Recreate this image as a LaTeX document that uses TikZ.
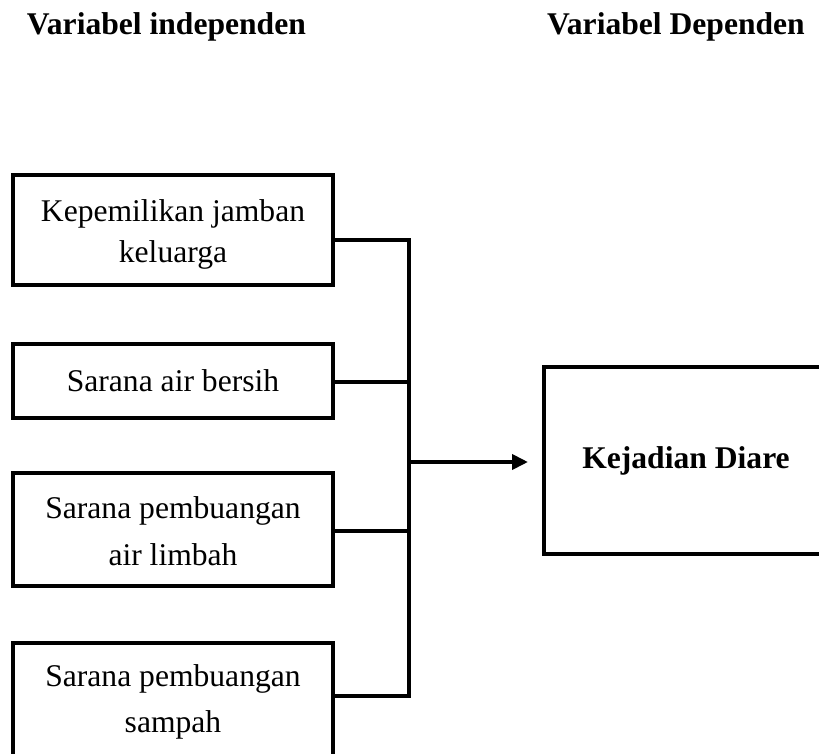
\documentclass[tikz,border=0pt]{standalone}
\usepackage{fontspec}
\setmainfont{Liberation Serif}
\usetikzlibrary{arrows.meta}
\begin{document}
\begin{tikzpicture}[x=1pt,y=-1pt,
  every node/.style={inner sep=0pt, outer sep=0pt},
  varbox/.style={draw, line width=3.8pt, align=center, minimum width=320pt,
    font=\fontsize{31.6}{46}\selectfont},
  boxtxt/.style={align=center, font=\fontsize{31.6}{41}\selectfont},
  head/.style={anchor=base west, font=\fontsize{31.6}{38}\selectfont\bfseries},
  conn/.style={line width=3.8pt},
  arr/.style={line width=3.8pt, -{Triangle[length=16pt,width=15pt]}}]
\useasboundingbox (0,0) rectangle (819,754);
\node[head] (h1) at (27,35) {Variabel independen};
\node[head] (h2) at (547,35) {Variabel Dependen};
\node[varbox, minimum height=110pt] (b1) at (173,230) {};
\node[boxtxt] (t1) at ([yshift=-4.5pt]b1.center) {Kepemilikan jamban\\keluarga};
\node[varbox, minimum height=74pt] (b2) at (173,381) {Sarana air bersih};
\node[varbox, minimum height=113pt] (b3) at (173,529.5) {};
\node[align=center, font=\fontsize{31.6}{47}\selectfont] (t3) at ([yshift=-2pt]b3.center) {Sarana pembuangan\\air limbah};
\node[varbox, minimum height=117pt] (b4) at (173,701.5) {Sarana pembuangan\\sampah};
\node[draw, line width=3.8pt, minimum width=284pt, minimum height=187pt,
  font=\fontsize{31.6}{38}\selectfont\bfseries] (kd) at (686,460.5) {Kejadian Diare};
\coordinate (j1) at (409,240);
\coordinate (j2) at (409,382);
\coordinate (j3) at (409,531);
\coordinate (j4) at (409,696);
\coordinate (jm) at (409,462);
\draw[conn] (b1.east |- j1) -- (j1) -- (j4) -- (b4.east |- j4);
\draw[conn] (b2.east |- j2) -- (j2);
\draw[conn] (b3.east |- j3) -- (j3);
\draw[arr, shorten >=16pt] (jm) -- (kd.west |- jm);
\end{tikzpicture}
\end{document}
